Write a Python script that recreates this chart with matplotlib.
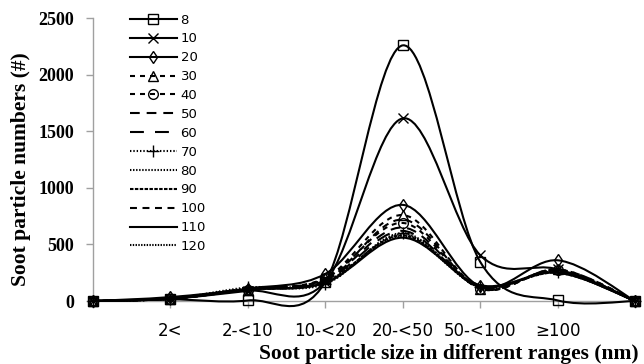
import numpy as np
import matplotlib
matplotlib.use("Agg")
import matplotlib.pyplot as plt
from matplotlib.path import Path
from matplotlib.patches import PathPatch
from matplotlib.lines import Line2D

plt.rcParams['lines.scale_dashes'] = False

categories = ["", "2<", "2-<10", "10-<20", "20-<50", "50-<100", "\u2265100", ""]
labels = ["8", "10", "20", "30", "40", "50", "60", "70", "80", "90", "100", "110", "120"]

s8 = [0, 15, 5, 170, 2260, 345, 5, 0]
s10 = [0, 20, 90, 170, 1615, 405, 280, 0]
s20 = [0, 35, 110, 240, 850, 130, 360, 0]
s30 = [0, 20, 100, 200, 760, 110, 280, 0]
s40 = [0, 20, 100, 200, 690, 110, 270, 0]
s50 = [0, 20, 110, 190, 650, 120, 270, 0]
s60 = [0, 20, 110, 180, 620, 120, 270, 0]
s70 = [0, 20, 120, 150, 600, 120, 260, 0]
s80 = [0, 20, 110, 160, 590, 130, 260, 0]
s90 = [0, 20, 100, 170, 580, 130, 250, 0]
s100 = [0, 20, 100, 180, 720, 110, 280, 0]
s110 = [0, 20, 100, 160, 560, 140, 250, 0]
s120 = [0, 20, 110, 170, 570, 130, 260, 0]
series = [s8, s10, s20, s30, s40, s50, s60, s70, s80, s90, s100, s110, s120]

# line style and marker of each series, as in the legend
styles = [
    ("-", "s", 7.5),
    ("-", "x", 7),
    ("-", "d", 6),
    ((0, (3.6, 3.6)), "^", 7),
    ((0, (3.6, 3.6)), "o", 7),
    ((0, (7, 5)), None, 0),
    ((0, (10, 8)), None, 0),
    ((0, (1, 1.4)), "+", 9),
    ((0, (1, 1.2)), None, 0),
    ((0, (2.5, 1)), None, 0),
    ((0, (5, 4)), None, 0),
    ("-", None, 0),
    ((0, (1, 1)), None, 0),
]


def smooth_path(x, y):
    # Excel style smoothed line: cubic bezier through every point
    x = np.asarray(x, float)
    y = np.asarray(y, float)
    n = len(x)
    verts = [(x[0], y[0])]
    codes = [Path.MOVETO]
    for i in range(n - 1):
        p0 = np.array([x[max(i - 1, 0)], y[max(i - 1, 0)]])
        p1 = np.array([x[i], y[i]])
        p2 = np.array([x[i + 1], y[i + 1]])
        p3 = np.array([x[min(i + 2, n - 1)], y[min(i + 2, n - 1)]])
        c1 = p1 + (p2 - p0) / 6
        c2 = p2 - (p3 - p1) / 6
        verts += [tuple(c1), tuple(c2), tuple(p2)]
        codes += [Path.CURVE4] * 3
    return Path(verts, codes)


fig = plt.figure(figsize=(6.44, 3.64), dpi=100)
ax = fig.add_axes([0.1444, 0.173, 0.842, 0.777])

x = np.arange(len(categories))
lw = 1.5
handles = []
for vals, (ls, mk, ms), lab in zip(series, styles, labels):
    patch = PathPatch(smooth_path(x, vals), facecolor="none", edgecolor="black",
                      lw=lw, linestyle=ls, clip_on=False, zorder=3)
    ax.add_patch(patch)
    if mk:
        ax.plot(x, vals, linestyle="none", marker=mk, ms=ms, mfc="none",
                mec="black", mew=1.0, clip_on=False, zorder=4)
    handles.append(Line2D([], [], color="black", lw=lw, linestyle=ls,
                          marker=mk if mk else "None", ms=ms, mfc="none",
                          mec="black", mew=1.0))

ax.set_xlim(0, 7)
ax.set_ylim(0, 2500)
ax.set_xticks(x)
ax.set_xticklabels(categories, fontsize=12, family="DejaVu Sans")
ax.set_yticks([0, 500, 1000, 1500, 2000, 2500])
for t in ax.get_yticklabels():
    t.set_fontfamily("Liberation Serif")
    t.set_fontweight("bold")
    t.set_fontsize(13)

for side in ["top", "right"]:
    ax.spines[side].set_visible(False)
for side in ["left", "bottom"]:
    ax.spines[side].set_color("#a0a0a0")
    ax.spines[side].set_linewidth(1.0)
ax.tick_params(axis="both", color="#a0a0a0", length=5, width=1.0)
ax.tick_params(axis="x", pad=10)
ax.tick_params(axis="y", pad=8.5)

ax.set_ylabel("Soot particle numbers (#)", family="Liberation Serif",
              fontweight="bold", fontsize=15.5)
ax.yaxis.set_label_coords(-0.114, 0.465)
ax.set_xlabel("Soot particle size in different ranges (nm)", family="Liberation Serif",
              fontweight="bold", fontsize=15.5, va="bottom")
ax.xaxis.set_label_coords(0.657, -0.222)

leg = ax.legend(handles, labels, loc="upper left", bbox_to_anchor=(0.058, 1.035),
                frameon=False, prop={"family": "DejaVu Sans", "size": 9.5},
                handlelength=3.6, handletextpad=0.25, labelspacing=0.445,
                borderaxespad=0)

fig.savefig("out.png", dpi=100)
